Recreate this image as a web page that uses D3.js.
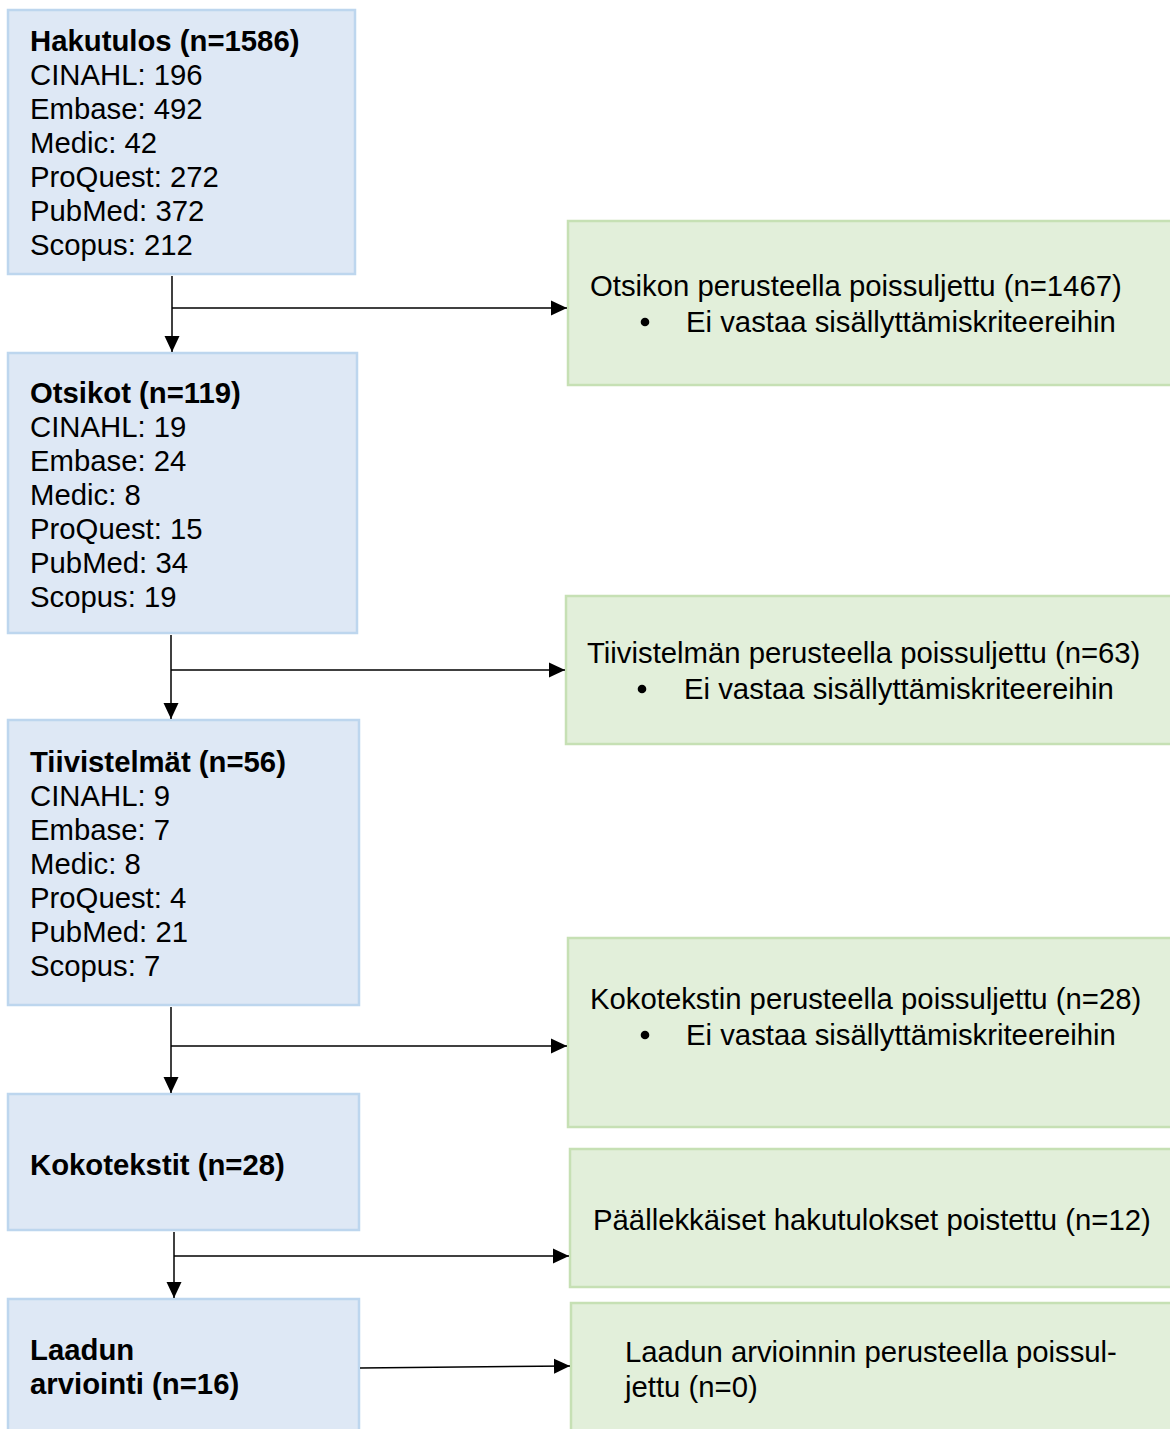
<!DOCTYPE html>
<html>
<head>
<meta charset="utf-8">
<script src="https://cdn.jsdelivr.net/npm/d3@7"></script>
<style>
  html, body { margin: 0; padding: 0; background: #fff; }
  svg { display: block; }
  text { font-family: "Liberation Sans", Arial, sans-serif; font-size: 29.3px; fill: #000; }
</style>
</head>
<body>
<svg id="svg"></svg>
<script>
// data
var databases = ["CINAHL", "Embase", "Medic", "ProQuest", "PubMed", "Scopus"];
var stageTitles = [["Hakutulos (n=1586)"], ["Otsikot (n=119)"], ["Tiivistelmät (n=56)"],
                   ["Kokotekstit (n=28)"], ["Laadun", "arviointi (n=16)"]];
var hakuCounts = [196, 492, 42, 272, 372, 212];
var otsikkoCounts = [19, 24, 8, 15, 34, 19];
var tiivisCounts = [9, 7, 8, 4, 21, 7];
var stageCounts = [hakuCounts, otsikkoCounts, tiivisCounts, null, null];
var exclTitles = [["Otsikon perusteella poissuljettu (n=1467)"],
                  ["Tiivistelmän perusteella poissuljettu (n=63)"],
                  ["Kokotekstin perusteella poissuljettu (n=28)"],
                  ["Päällekkäiset hakutulokset poistettu (n=12)"],
                  ["Laadun arvioinnin perusteella poissul-", "jettu (n=0)"]];
var exclBullets = ["Ei vastaa sisällyttämiskriteereihin", "Ei vastaa sisällyttämiskriteereihin",
                   "Ei vastaa sisällyttämiskriteereihin", null, null];

//////////////////////////////////////////////////////////////////////////////
// layout (positions only)
var width = 1170, height = 1429;
var lineH = 34;

var stageBoxes = [
    {x1: 8, x2: 355, y1: 10,   y2: 274,  ty: 51},
    {x1: 8, x2: 357, y1: 353,  y2: 633,  ty: 403},
    {x1: 8, x2: 359, y1: 720,  y2: 1005, ty: 772},
    {x1: 8, x2: 359, y1: 1094, y2: 1230, ty: 1175},
    {x1: 8, x2: 359, y1: 1299, y2: 1440, ty: 1360}
];
var exclBoxes = [
    {x1: 568, x2: 1175, y1: 221,  y2: 385,  tx: 590, ty: 296, bx: 645, btx: 686},
    {x1: 566, x2: 1175, y1: 596,  y2: 744,  tx: 587, ty: 663, bx: 642, btx: 684},
    {x1: 568, x2: 1175, y1: 938,  y2: 1127, tx: 590, ty: 1009, bx: 645, btx: 686},
    {x1: 570, x2: 1175, y1: 1149, y2: 1287, tx: 593, ty: 1230},
    {x1: 571, x2: 1175, y1: 1303, y2: 1440, tx: 625, ty: 1362}
];
// connectors: vertical trunk x, branch y
var connectors = [
    {x: 172, y1: 276,  y2: 352,  by: 308,  bx2: 567},
    {x: 171, y1: 635,  y2: 719,  by: 670,  bx2: 565},
    {x: 171, y1: 1007, y2: 1093, by: 1046, bx2: 567},
    {x: 174, y1: 1232, y2: 1298, by: 1256, bx2: 569}
];

var svg = d3.select("#svg").attr("width", width).attr("height", height);

svg.append("defs").append("marker")
    .attr("id", "arrow")
    .attr("viewBox", "0 0 16 16")
    .attr("refX", 16).attr("refY", 8)
    .attr("markerWidth", 16).attr("markerHeight", 16)
    .attr("markerUnits", "userSpaceOnUse")
    .attr("orient", "auto")
    .append("path").attr("d", "M0,0.5 L16,8 L0,15.5 Z").attr("fill", "#000");

function drawBox(g, r, fill, stroke) {
    g.append("rect")
        .attr("x", r.x1).attr("y", r.y1)
        .attr("width", r.x2 - r.x1).attr("height", r.y2 - r.y1)
        .attr("fill", fill).attr("stroke", stroke).attr("stroke-width", 2.5);
}

// stage boxes
stageBoxes.forEach(function(r, i) {
    var g = svg.append("g");
    drawBox(g, r, "#dee8f5", "#bdd6ee");
    var lines = stageTitles[i].map(function(t) { return {t: t, bold: true}; });
    if (stageCounts[i]) {
        stageCounts[i].forEach(function(c, j) {
            lines.push({t: databases[j] + ": " + c, bold: false});
        });
    }
    g.selectAll("text").data(lines).enter().append("text")
        .attr("x", 30)
        .attr("y", function(d, k) { return r.ty + k * lineH; })
        .attr("font-weight", function(d) { return d.bold ? "bold" : "normal"; })
        .text(function(d) { return d.t; });
});

// exclusion boxes
exclBoxes.forEach(function(r, i) {
    var g = svg.append("g");
    drawBox(g, r, "#e2efda", "#c6e0b4");
    g.selectAll("text.t").data(exclTitles[i]).enter().append("text")
        .attr("class", "t")
        .attr("x", r.tx)
        .attr("y", function(d, k) { return r.ty + k * 35; })
        .text(function(d) { return d; });
    if (exclBullets[i]) {
        g.append("circle").attr("cx", r.bx).attr("cy", r.ty + 36 - 10).attr("r", 4.3).attr("fill", "#000");
        g.append("text").attr("x", r.btx).attr("y", r.ty + 36).text(exclBullets[i]);
    }
});

// connectors
connectors.forEach(function(c) {
    svg.append("line")
        .attr("x1", c.x).attr("y1", c.y1).attr("x2", c.x).attr("y2", c.y2)
        .attr("stroke", "#000").attr("stroke-width", 1.5)
        .attr("marker-end", "url(#arrow)");
    svg.append("line")
        .attr("x1", c.x).attr("y1", c.by).attr("x2", c.bx2).attr("y2", c.by)
        .attr("stroke", "#000").attr("stroke-width", 1.5)
        .attr("marker-end", "url(#arrow)");
});
// last stage straight to its exclusion box
svg.append("line")
    .attr("x1", 360).attr("y1", 1368).attr("x2", 570).attr("y2", 1366)
    .attr("stroke", "#000").attr("stroke-width", 1.5)
    .attr("marker-end", "url(#arrow)");
</script>
</body>
</html>
